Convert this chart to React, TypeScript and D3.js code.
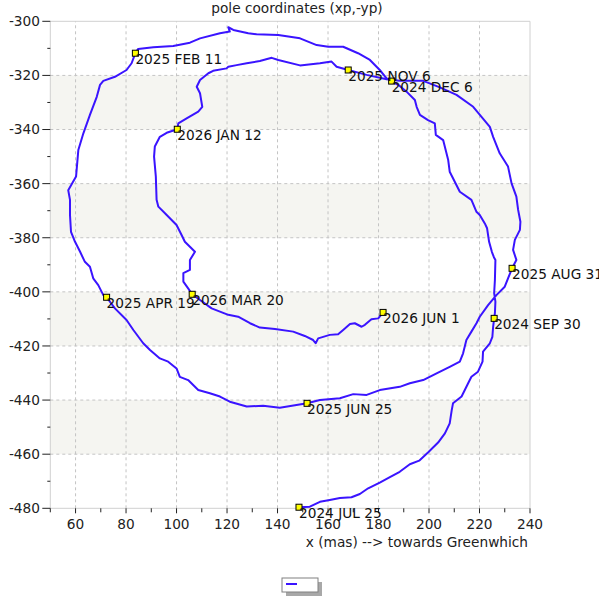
import * as d3 from 'd3'

// polar motion track, x in mas, y = -yp in mas
const trackX = [
  // 2024 JUL 25 -> SEP 30
  148.5, 152.8, 156.8, 160.7, 164.7, 169.3, 172.6, 175.9, 180.5, 184.5, 188.4, 192.4, 196.1, 199.7, 203.6, 206.3, 208.2, 209.0, 209.5, 212.9, 215.5, 216.8, 219.4, 221.2, 221.4, 224.1, 225.1, 225.4, 225.8,
  // -> DEC 6
  226.1, 226.3, 225.8, 226.1, 226.3, 225.7, 224.9, 223.8, 223.0, 222.1, 220.1, 218.8, 216.8, 212.2, 208.2, 207.6, 205.6, 202.7, 202.3, 199.6, 196.4, 195.1, 194.4, 191.1, 188.4, 185.2,
  // -> 2025 FEB 11
  183.2, 180.5, 176.6, 171.9, 166.0, 160.1, 155.5, 148.9, 140.3, 131.7, 128.4, 122.5, 120.5, 121.1, 117.2, 109.3, 105.3, 98.7, 90.8, 84.8, 83.7,
  // -> APR 19
  82.2, 80.2, 75.6, 71.0, 69.7, 68.4, 65.7, 63.1, 61.1, 60.2, 57.1, 57.8, 57.8, 58.2, 59.8, 61.8, 63.7, 65.7, 67.0, 69.0, 71.0, 72.3,
  // -> JUN 25
  75.6, 80.2, 82.9, 86.8, 89.5, 93.4, 96.7, 100.0, 101.3, 104.6, 108.6, 113.2, 117.2, 121.1, 127.8, 134.3, 140.9, 147.5, 151.7,
  // -> AUG 31
  156.8, 164.7, 170.0, 175.3, 180.5, 188.4, 192.4, 197.7, 203.0, 208.2, 212.2, 213.5, 214.8, 216.8, 218.8, 220.1, 223.4, 226.7, 230.0, 231.3, 232.9,
  // -> NOV 6
  234.6, 233.3, 234.0, 236.0, 236.2, 235.3, 234.6, 232.7, 231.3, 228.0, 225.4, 224.1, 220.8, 217.5, 210.9, 204.3, 197.7, 188.4, 183.2, 175.3, 168.0,
  // -> 2026 JAN 12
  163.4, 161.4, 156.8, 148.9, 140.3, 137.7, 133.0, 127.8, 123.8, 120.5, 119.8, 114.5, 112.6, 109.3, 108.0, 109.3, 110.2, 108.6, 104.0, 100.7, 100.3,
  // -> MAR 20
  96.1, 93.4, 91.4, 91.1, 91.8, 92.1, 92.8, 96.1, 100.0, 102.0, 103.3, 107.3, 105.3, 105.3, 102.7, 102.7, 104.6, 106.2,
  // -> JUN 1
  109.3, 113.9, 120.5, 124.4, 129.1, 133.0, 139.0, 146.2, 150.8, 154.1, 155.1, 156.1, 160.7, 164.0, 166.0, 168.7, 170.6, 173.3, 174.6, 177.2, 179.9, 181.8,
]

const trackY = [
  -479.6, -479.4, -477.6, -476.9, -476.2, -475.9, -474.7, -472.6, -470.5, -468.5, -466.5, -463.7, -462.4, -459.3, -455.7, -452.3, -448.6, -443.7, -441.2, -438.7, -433.8, -431.4, -429.5, -425.8, -422.1, -419.0, -416.6, -412.9, -409.8,
  -407.9, -403.6, -400.5, -395.6, -388.2, -387.2, -385.2, -381.5, -376.5, -374.7, -371.6, -370.4, -366.0, -363.0, -355.6, -351.3, -343.9, -342.0, -337.7, -336.5, -334.6, -331.6, -329.1, -326.0, -323.9, -322.1,
  -321.1, -318.0, -314.3, -311.8, -309.4, -309.4, -308.8, -306.3, -305.1, -304.8, -304.4, -303.2, -302.2, -303.8, -304.4, -306.3, -307.9, -309.1, -309.6, -310.2, -311.8,
  -315.5, -318.0, -320.5, -322.0, -323.5, -327.9, -334.6, -341.4, -347.6, -357.4, -362.4, -366.0, -371.6, -377.8, -381.5, -385.2, -388.9, -390.7, -395.0, -397.5, -401.2, -402.0,
  -406.1, -410.4, -414.1, -419.0, -421.5, -424.6, -425.8, -428.3, -431.4, -432.6, -436.3, -437.5, -438.7, -440.6, -442.4, -442.1, -442.8, -441.8, -441.2,
  -440.0, -439.3, -437.8, -438.1, -436.3, -435.1, -433.8, -432.6, -430.1, -427.7, -425.8, -422.7, -417.8, -414.7, -411.6, -409.2, -404.9, -401.2, -398.1, -395.0, -391.3,
  -388.2, -384.5, -380.8, -377.1, -374.1, -369.7, -364.8, -359.9, -353.7, -348.8, -342.7, -339.0, -335.3, -331.6, -327.2, -324.4, -322.0, -322.0, -321.4, -319.8, -318.0,
  -316.8, -314.9, -315.5, -316.3, -314.3, -313.5, -314.7, -315.5, -316.2, -316.8, -317.4, -318.3, -319.2, -321.7, -324.2, -326.6, -331.6, -333.4, -335.9, -337.7, -339.9,
  -341.2, -342.7, -346.3, -350.0, -357.4, -366.0, -368.5, -371.6, -375.3, -379.0, -381.5, -385.2, -388.2, -391.9, -393.1, -396.2, -398.7, -400.9,
  -403.0, -406.1, -408.5, -409.2, -411.6, -413.2, -413.7, -414.7, -416.3, -417.8, -419.0, -417.2, -415.9, -415.7, -414.1, -411.9, -411.6, -412.9, -412.2, -410.1, -409.8, -407.6,
]

const markerLabels = [
  '2024 JUL 25', '2024 SEP 30', '2024 DEC 6', '2025 FEB 11', '2025 APR 19', '2025 JUN 25',
  '2025 AUG 31', '2025 NOV 6', '2026 JAN 12', '2026 MAR 20', '2026 JUN 1',
]
const markerX = [148.5, 225.8, 185.2, 83.7, 72.3, 151.7, 232.9, 168.0, 100.3, 106.2, 181.8]
const markerY = [-479.6, -409.8, -322.1, -311.8, -402.0, -441.2, -391.3, -318.0, -339.9, -400.9, -407.6]

const xTicks = [60, 80, 100, 120, 140, 160, 180, 200, 220, 240]
const yTicks = [-300, -320, -340, -360, -380, -400, -420, -440, -460, -480]

const title = 'pole coordinates (xp,-yp)'
const xLabel = 'x (mas) --> towards Greenwhich'

const W = 599
const H = 596
const FONT = 'DejaVu Sans, Verdana, sans-serif'
const FS = 13.7
const LINE = '#3a14ff'

export default function App() {
  const x = d3.scaleLinear().domain([50, 240]).range([50.3, 530])
  const y = d3.scaleLinear().domain([-480, -300]).range([508.3, 21.3])
  const [x0, x1] = x.range()
  const [y0, y1] = y.range()

  const pts = trackX.map((v, i) => [v, trackY[i]] as [number, number])
  const path = d3.line<[number, number]>()
    .x(d => x(d[0]))
    .y(d => y(d[1]))(pts) || ''

  const xMinor = d3.range(50, 241, 10).filter(v => v % 20 !== 0)
  const yMinor = d3.range(-470, -300, 20)
  // shaded bands between every other pair of y ticks
  const bands = yTicks.slice(0, -1)
    .map((t, i) => ({ top: t, bottom: yTicks[i + 1], on: i % 2 === 1 }))
    .filter(b => b.on)

  return (
    <svg width={W} height={H} style={{ position: 'absolute', left: 0, top: 0, background: '#fff' }}
      fontFamily={FONT}>
      <rect x={0} y={0} width={W} height={H} fill="#fff" />
      <text x={297} y={13} fontSize={FS} textAnchor="middle" fill="#222">{title}</text>

      {bands.map((b, i) => (
        <rect key={i} x={x0} y={y(b.top)} width={x1 - x0} height={y(b.bottom) - y(b.top)} fill="#f5f5f1" />
      ))}

      {xTicks.filter(t => t < 240).map(t => (
        <line key={'gx' + t} x1={x(t)} x2={x(t)} y1={y0} y2={y1} stroke="#c4c4c4" strokeDasharray="3,3" />
      ))}
      {yTicks.filter(t => t > -480 && t < -300).map(t => (
        <line key={'gy' + t} x1={x0} x2={x1} y1={y(t)} y2={y(t)} stroke="#c4c4c4" strokeDasharray="3,3" />
      ))}

      {/* plot frame */}
      <line x1={x0} x2={x1} y1={y1} y2={y1} stroke="#d0d0d0" />
      <line x1={x1} x2={x1} y1={y1} y2={y0} stroke="#d0d0d0" />
      <line x1={x0} x2={x0} y1={y1} y2={y0} stroke="#d0d0d0" />
      <line x1={x0} x2={x1} y1={y0} y2={y0} stroke="#d0d0d0" />

      {/* y axis */}
      {yTicks.map(t => (
        <g key={'ty' + t}>
          <line x1={x0 - 8} x2={x0} y1={y(t)} y2={y(t)} stroke="#222" />
          <text x={40} y={y(t) + 4.9} fontSize={FS} textAnchor="end" fill="#222">{t}</text>
        </g>
      ))}
      {yMinor.map(t => (
        <line key={'my' + t} x1={x0 - 3} x2={x0} y1={y(t)} y2={y(t)} stroke="#222" />
      ))}

      {/* x axis */}
      {xTicks.map(t => (
        <g key={'tx' + t}>
          <line x1={x(t)} x2={x(t)} y1={y0} y2={y0 + 5} stroke="#222" />
          <text x={x(t)} y={528.5} fontSize={FS} textAnchor="middle" fill="#222">{t}</text>
        </g>
      ))}
      {xMinor.map(t => (
        <line key={'mx' + t} x1={x(t)} x2={x(t)} y1={y0} y2={y0 + 4} stroke="#222" />
      ))}
      <text x={528} y={546.5} fontSize={FS} textAnchor="end" fill="#222">{xLabel}</text>

      {/* track */}
      <path d={path} fill="none" stroke={LINE} strokeWidth={2} strokeLinejoin="round" />

      {markerLabels.map((lab, i) => (
        <g key={lab}>
          <rect x={x(markerX[i]) - 3} y={y(markerY[i]) - 3} width={6} height={6}
            fill="#ffff00" stroke="#000" strokeWidth={1} />
          <text x={x(markerX[i])} y={y(markerY[i]) + 10.8} fontSize={FS} fill="#111">{lab}</text>
        </g>
      ))}

      {/* legend */}
      <rect x={286} y={582} width={36} height={14} fill="#a8a8a8" />
      <rect x={282} y={578} width={36} height={14} fill="#fff" stroke="#808080" />
      <line x1={286} x2={297} y1={584} y2={584} stroke={LINE} strokeWidth={2} />
    </svg>
  )
}
